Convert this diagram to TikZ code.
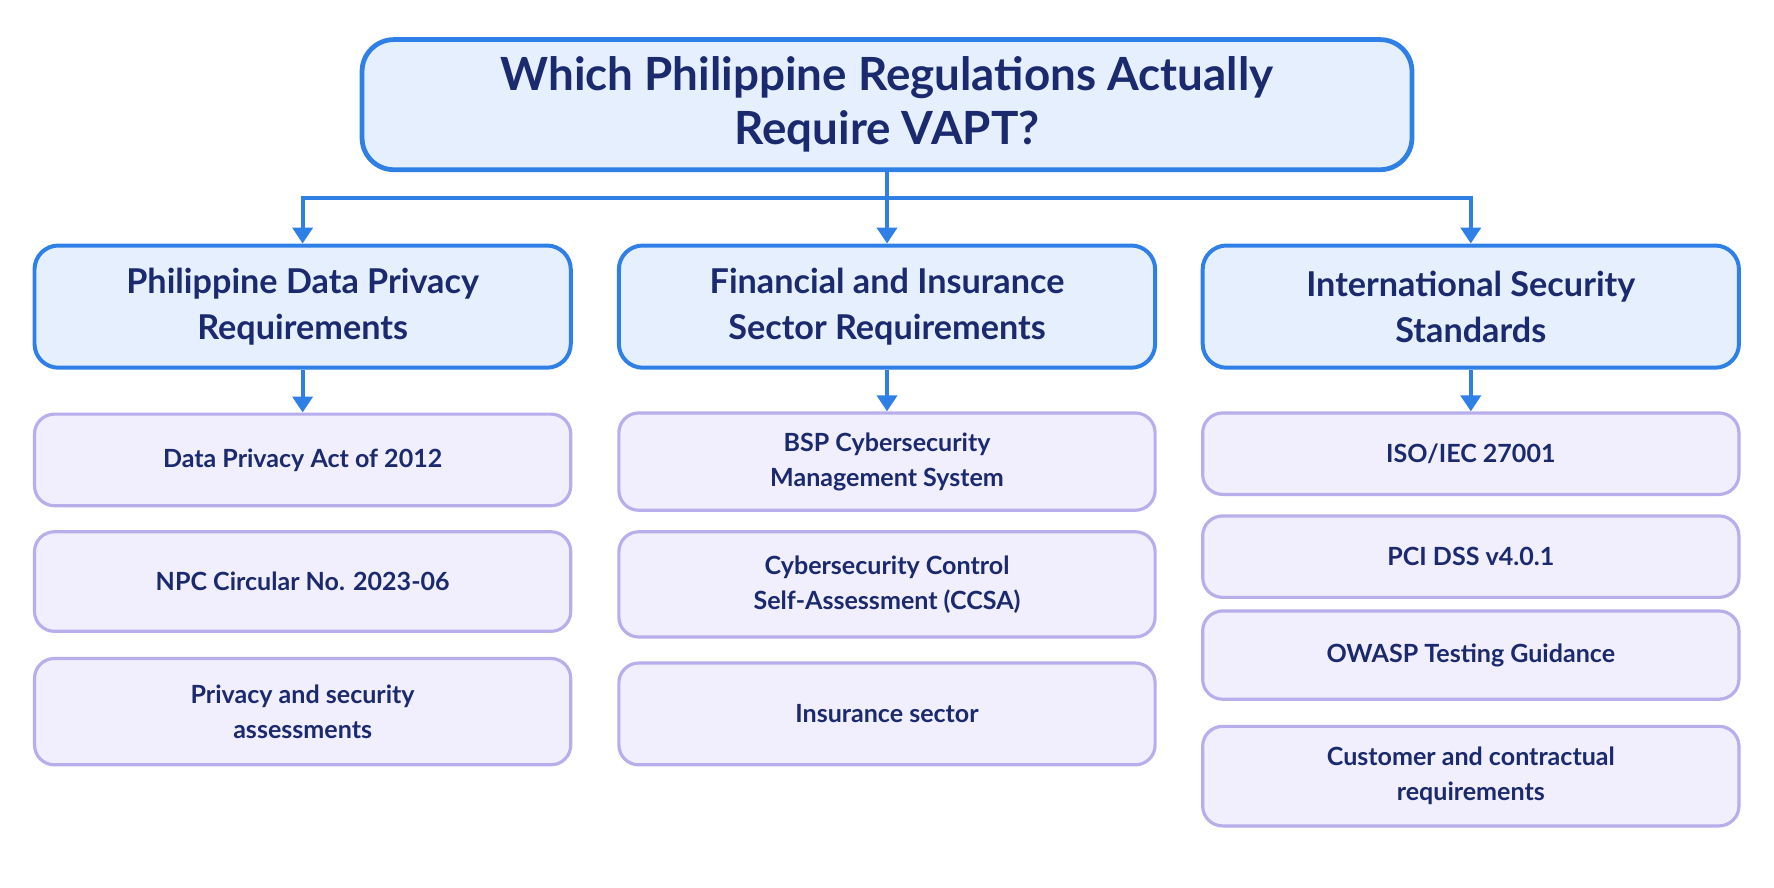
\documentclass[tikz,border=0pt]{standalone}
\usepackage{fontspec}
\setmainfont{Lato}
\usetikzlibrary{positioning,arrows.meta}
\definecolor{navy}{HTML}{1B2A6E}
\definecolor{hdrfill}{HTML}{E5EFFD}
\definecolor{hdrline}{HTML}{2F80E6}
\definecolor{itemfill}{HTML}{F1EFFD}
\definecolor{itemline}{HTML}{B8AEEC}
\tikzset{
	title/.style={draw=hdrline, line width=1.2pt, fill=hdrfill, rounded corners=8pt,
		minimum width=9.28cm, minimum height=1.15cm, align=center, text=navy,
		font=\fontsize{11.5}{13.5}\selectfont\bfseries},
	group/.style={draw=hdrline, line width=1pt, fill=hdrfill, rounded corners=6pt,
		minimum width=4.74cm, minimum height=1.08cm, align=center, text=navy,
		font=\fontsize{8.6}{11.5}\selectfont\bfseries},
	item/.style={draw=itemline, line width=0.8pt, fill=itemfill, rounded corners=5pt,
		minimum width=4.74cm, align=center, text=navy,
		font=\fontsize{6.3}{8.8}\selectfont\bfseries},
	link/.style={hdrline, line width=1pt, -{Triangle[length=4pt,width=5pt]}}
}
\begin{document}
\begin{tikzpicture}
	\useasboundingbox (0,0) rectangle (15.68,7.84);
	\node[title] (T) at (7.84,6.915) {Which Philippine Regulations Actually\\Require VAPT?};

	\node[group] (G1) at (2.675,5.13) {Philippine Data Privacy\\Requirements};
	\node[group] (G2) at (7.84,5.13) {Financial and Insurance\\Sector Requirements};
	\node[group] (G3) at (13.0,5.13) {International Security\\Standards};

	% data privacy
	\node[item, minimum height=0.81cm] (A1) at (2.675,3.775) {Data Privacy Act of 2012};
	\node[item, minimum height=0.88cm] (A2) at (2.675,2.70) {NPC Circular No. 2023-06};
	\node[item, minimum height=0.94cm] (A3) at (2.675,1.55) {Privacy and security\\assessments};

	% financial
	\node[item, minimum height=0.86cm] (B1) at (7.84,3.76) {BSP Cybersecurity\\Management System};
	\node[item, minimum height=0.93cm] (B2) at (7.84,2.675) {Cybersecurity Control\\Self-Assessment (CCSA)};
	\node[item, minimum height=0.90cm] (B3) at (7.84,1.53) {Insurance sector};

	% international
	\node[item, minimum height=0.72cm] (C1) at (13.0,3.83) {ISO/IEC 27001};
	\node[item, minimum height=0.72cm] (C2) at (13.0,2.92) {PCI DSS v4.0.1};
	\node[item, minimum height=0.78cm] (C3) at (13.0,2.05) {OWASP Testing Guidance};
	\node[item, minimum height=0.88cm] (C4) at (13.0,0.98) {Customer and contractual\\requirements};

	\coordinate (split) at (7.84,6.09);
	\draw[hdrline, line width=1pt] (T.south) -- (split);
	\draw[link] (split) -| (G1.north);
	\draw[link] (split) -- (G2.north);
	\draw[link] (split) -| (G3.north);

	\draw[link] (G1.south) -- (A1.north);
	\draw[link] (G2.south) -- (B1.north);
	\draw[link] (G3.south) -- (C1.north);
\end{tikzpicture}
\end{document}
